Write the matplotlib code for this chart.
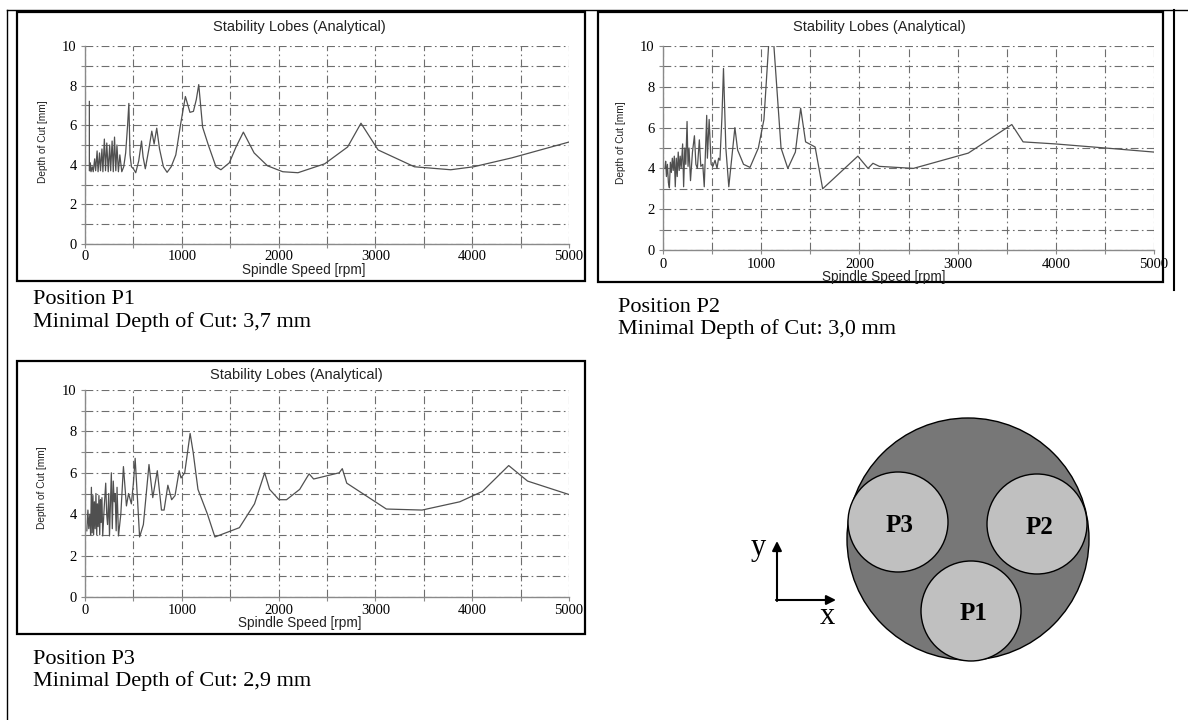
import matplotlib
matplotlib.use("Agg")
import matplotlib.pyplot as plt
from matplotlib.patches import Circle, Rectangle
from matplotlib.ticker import MultipleLocator

# stability lobe curves: spindle speed [rpm], depth [mm]
p1_rpm = [45, 45, 48, 55, 62, 75, 85, 100, 110, 125, 135, 150, 160, 175, 185,
          200, 212, 225, 240, 255, 265, 280, 292, 305, 318, 330, 345, 360, 380,
          400, 420, 440, 453, 465, 480, 500, 524, 555, 584, 600, 623, 660, 690,
          714, 741, 770, 810, 848, 890, 938, 986, 1037, 1084, 1120, 1150, 1175,
          1215, 1274, 1353, 1404, 1491, 1560, 1636, 1747, 1885, 2043, 2200,
          2476, 2713, 2851, 3028, 3403, 3778, 4014, 4409, 5000]
p1_depth = [7.2, 3.7, 3.7, 4.1, 3.65, 3.9, 3.65, 4.3, 3.7, 4.7, 3.65, 4.6, 3.7,
            4.8, 3.65, 5.3, 3.7, 5.1, 3.65, 5.0, 3.7, 5.2, 3.65, 5.4, 3.7, 5.0,
            3.65, 4.5, 3.65, 3.9, 4.6, 6.0, 7.1, 4.5, 3.9, 3.8, 3.6, 4.2, 5.2,
            4.4, 3.8, 4.8, 5.7, 5.05, 5.85, 4.8, 3.9, 3.62, 3.9, 4.5, 6.0, 7.45,
            6.65, 6.7, 7.3, 8.05, 5.9, 5.0, 3.9, 3.75, 4.1, 4.9, 5.65, 4.6, 3.95,
            3.65, 3.6, 4.05, 4.9, 6.1, 4.75, 3.9, 3.75, 3.9, 4.35, 5.15]

p2_rpm = [20, 27, 35, 45, 55, 65, 75, 85, 95, 104, 115, 125, 135, 145, 155,
          165, 175, 185, 200, 210, 222, 232, 245, 255, 265, 280, 300, 320, 335,
          350, 370, 385, 405, 420, 445, 452, 470, 490, 508, 530, 550, 566, 580,
          600, 616, 640, 670, 700, 732, 760, 820, 886, 971, 1028, 1079, 1125,
          1202, 1271, 1348, 1402, 1452, 1491, 1549, 1626, 1984, 2088, 2138,
          2203, 2550, 3109, 3552, 3667, 3995, 4630, 5000]
p2_depth = [4.0, 4.35, 3.6, 4.2, 3.3, 3.05, 4.3, 3.8, 4.5, 3.9, 4.6, 3.1, 4.5,
            3.6, 4.8, 3.9, 4.6, 4.0, 5.2, 3.1, 5.0, 4.2, 6.3, 4.1, 5.0, 3.4, 4.8,
            5.6, 4.2, 4.0, 5.4, 4.1, 4.2, 3.1, 6.6, 4.5, 6.4, 4.2, 4.1, 4.4, 4.0,
            4.5, 4.4, 6.5, 8.9, 5.0, 3.1, 4.5, 6.0, 4.9, 4.2, 4.05, 5.0, 6.4,
            10.3, 10.3, 5.0, 4.0, 4.8, 6.95, 5.3, 5.2, 5.05, 3.0, 4.6, 4.0, 4.25,
            4.1, 4.0, 4.75, 6.15, 5.3, 5.2, 4.95, 4.8]

p3_rpm = [19, 30, 39, 50, 58, 66, 74, 82, 89, 97, 105, 113, 121, 128, 136, 144,
          152, 160, 167, 175, 183, 198, 214, 224, 233, 245, 253, 272, 282, 292,
          302, 311, 322, 331, 346, 370, 397, 428, 450, 479, 500, 518, 545, 564,
          603, 661, 700, 747, 790, 817, 856, 895, 930, 973, 992, 1030, 1086,
          1117, 1167, 1265, 1342, 1595, 1751, 1856, 1907, 2004, 2082, 2218,
          2315, 2362, 2626, 2658, 2704, 3113, 3482, 3872, 4105, 4377, 4572, 5000]
p3_depth = [3.2, 4.2, 3.3, 4.0, 3.0, 5.3, 3.1, 4.9, 3.0, 4.6, 3.3, 5.0, 3.0, 4.5,
            3.4, 4.9, 3.0, 4.7, 3.6, 4.8, 2.95, 4.3, 5.5, 4.0, 3.5, 5.0, 2.95,
            6.0, 3.3, 5.6, 4.6, 5.0, 3.2, 5.3, 2.95, 4.0, 6.3, 4.4, 5.0, 4.5,
            5.5, 6.7, 4.5, 2.9, 3.5, 6.4, 4.8, 6.1, 4.2, 4.2, 5.4, 4.7, 4.9, 6.1,
            5.75, 6.0, 7.9, 7.0, 5.2, 4.0, 2.9, 3.35, 4.5, 6.0, 5.2, 4.7, 4.7,
            5.2, 5.95, 5.7, 6.0, 6.2, 5.5, 4.25, 4.2, 4.6, 5.1, 6.35, 5.6, 4.95]

positions = ["P1", "P2", "P3"]
min_depth = ["3,7", "3,0", "2,9"]
x_ticks = [0, 1000, 2000, 3000, 4000, 5000]
y_ticks = [0, 2, 4, 6, 8, 10]

W, H = 1188, 720
serif = "Liberation Serif"
sans = "Liberation Sans"
fig = plt.figure(figsize=(W / 100, H / 100), dpi=100)

# background axes in pixel units for frames, captions and the sketch
bg = fig.add_axes([0, 0, 1, 1])
bg.set_xlim(0, W)
bg.set_ylim(H, 0)
bg.axis("off")
bg.plot([7, W], [10, 10], color="black", lw=1.0)
bg.plot([7, 7], [10, H], color="black", lw=1.0)
bg.plot([1174, 1174], [10, 290], color="black", lw=1.5)


def box(l, t, r, b):
    return [l / W, 1 - b / H, (r - l) / W, (b - t) / H]


# pixel layout of each panel: frame, axes, title, xlabel, ylabel, caption
layout = {
    "P1": dict(frame=(17, 12, 585, 281), ax=(85, 46, 569, 244), title=(299, 27),
               xlab=(304, 270), ylab=(43, 142), cap=(33, 300), xpad=1.5),
    "P2": dict(frame=(598, 12, 1163, 282), ax=(663, 46, 1154, 250), title=(879, 27),
               xlab=(884, 277), ylab=(621, 143), cap=(618, 307), xpad=2.5),
    "P3": dict(frame=(17, 361, 585, 634), ax=(85, 390, 569, 597), title=(296, 375),
               xlab=(300, 623), ylab=(42, 488), cap=(33, 659), xpad=2.0),
}
curves = {"P1": (p1_rpm, p1_depth), "P2": (p2_rpm, p2_depth), "P3": (p3_rpm, p3_depth)}
grid_style = dict(color="#6e6e6e", lw=0.8, linestyle=(0, (7, 3, 1.5, 3)))

for name, md in zip(positions, min_depth):
    L = layout[name]
    fl, ft, fr, fb = L["frame"]
    bg.add_patch(Rectangle((fl, ft), fr - fl, fb - ft, fill=False,
                           edgecolor="black", lw=1.6))

    ax = fig.add_axes(box(*L["ax"]))
    rpm, depth = curves[name]
    ax.plot(rpm, depth, color="#505050", lw=0.9)
    ax.set_xlim(0, 5000)
    ax.set_ylim(0, 10)
    ax.set_xticks(x_ticks)
    ax.set_yticks(y_ticks)
    ax.xaxis.set_minor_locator(MultipleLocator(500))
    ax.yaxis.set_minor_locator(MultipleLocator(1))
    ax.grid(True, which="both", **grid_style)
    ax.set_axisbelow(True)
    for s in ["top", "right"]:
        ax.spines[s].set_visible(False)
    for s in ["left", "bottom"]:
        ax.spines[s].set_color("#8a8a8a")
        ax.spines[s].set_linewidth(1.0)
    ax.tick_params(which="both", length=3, color="#8a8a8a", width=0.8)
    ax.tick_params(axis="x", pad=L["xpad"])
    ax.tick_params(axis="y", pad=3)
    for lab in ax.get_xticklabels() + ax.get_yticklabels():
        lab.set_fontfamily(serif)
        lab.set_fontsize(10.5)

    tx, ty = L["title"]
    fig.text(tx / W, 1 - ty / H, "Stability Lobes (Analytical)", family=sans,
             fontsize=10.5, ha="center", va="center", color="#222222")
    xx, xy = L["xlab"]
    fig.text(xx / W, 1 - xy / H, "Spindle Speed [rpm]", family=sans,
             fontsize=9.8, ha="center", va="center", color="#222222")
    yx, yy = L["ylab"]
    fig.text(yx / W, 1 - yy / H, "Depth of Cut [mm]", family=sans,
             fontsize=7.3, rotation=90, ha="center", va="center",
             color="#222222")

    cx, cy = L["cap"]
    bg.text(cx, cy, "Position " + name, family=serif, fontsize=16,
            ha="left", va="center")
    bg.text(cx, cy + 22, "Minimal Depth of Cut: " + md + " mm", family=serif,
            fontsize=16, ha="left", va="center")

# sketch of the workpiece with the three positions
bg.add_patch(Circle((968, 539), 121, facecolor="#777777", edgecolor="black", lw=1.0))
small = {"P1": (971, 611), "P2": (1037, 524), "P3": (898, 522)}
for name in positions:
    c = small[name]
    bg.add_patch(Circle(c, 50, facecolor="#c0c0c0", edgecolor="black", lw=1.0))
    bg.text(c[0] + 2, c[1] + 3, name, family=serif, fontweight="bold",
            fontsize=18, ha="center", va="center")

arrow = dict(arrowstyle="-|>", color="black", lw=1.5, mutation_scale=14,
             shrinkA=0, shrinkB=0)
bg.annotate("", xy=(777, 541), xytext=(777, 601), arrowprops=arrow)
bg.annotate("", xy=(836, 600), xytext=(776, 600), arrowprops=arrow)
bg.text(758, 548, "y", family=serif, fontsize=22, ha="center", va="center")
bg.text(827, 617, "x", family=serif, fontsize=22, ha="center", va="center")

fig.savefig("out.png", dpi=100)
